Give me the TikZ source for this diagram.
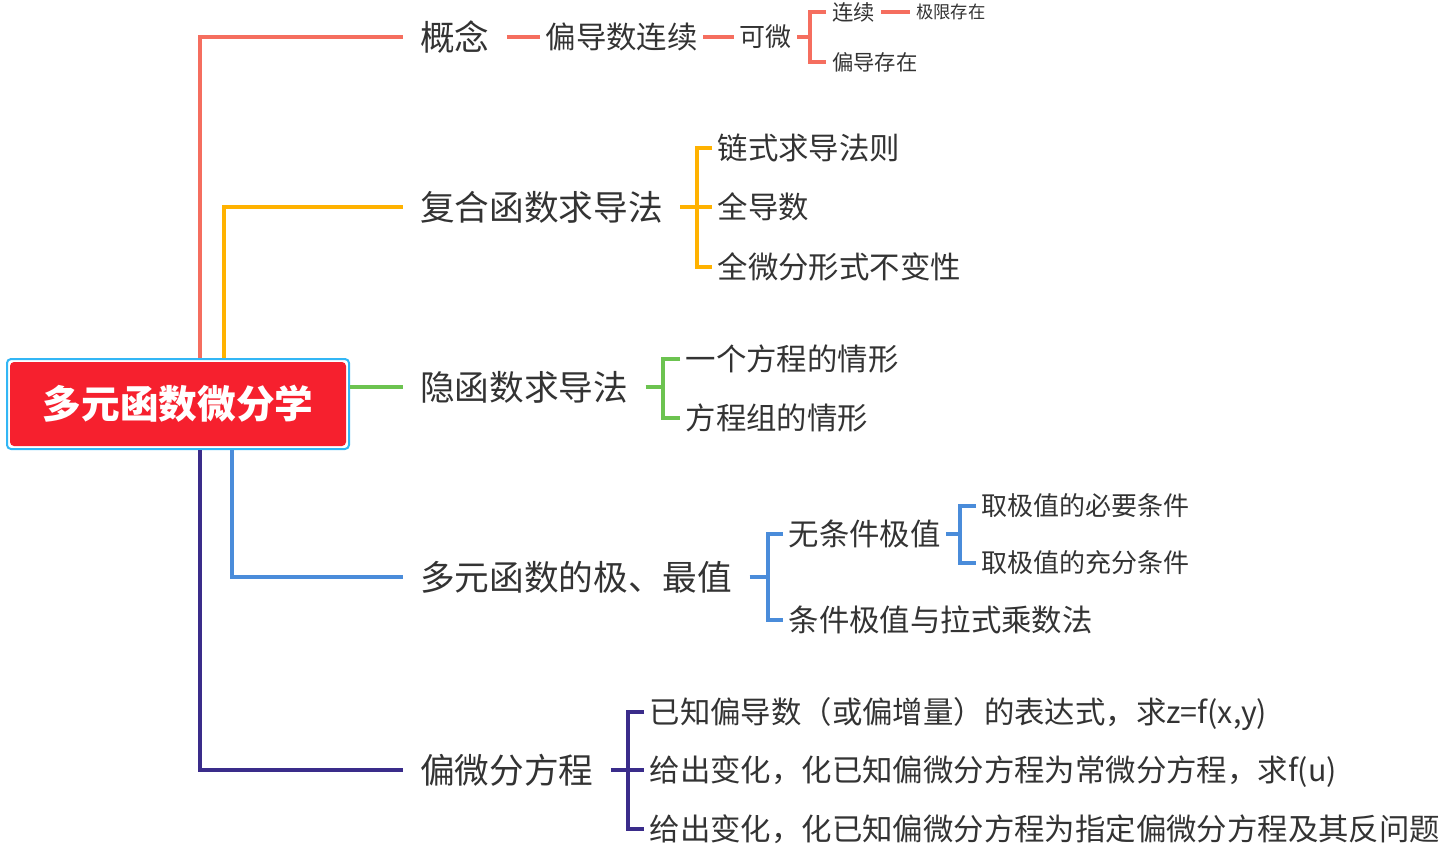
\documentclass[tikz,border=0pt]{standalone}
\usepackage{fontspec}
\setmainfont{Noto Sans CJK SC}
\definecolor{rootred}{RGB}{246,32,46}
\definecolor{rootcyan}{RGB}{50,182,245}
\definecolor{txtgray}{RGB}{51,51,51}
\definecolor{lred}{RGB}{245,110,95}
\definecolor{lorange}{RGB}{255,178,0}
\definecolor{lgreen}{RGB}{108,195,80}
\definecolor{lblue}{RGB}{74,140,218}
\definecolor{lpurple}{RGB}{58,44,138}
\begin{document}
\begin{tikzpicture}[x=0.75pt,y=-0.75pt,
  topic/.style={anchor=west, inner xsep=12.75pt, inner ysep=0pt, text height=19.5pt, text depth=0pt, text=txtgray, font=\fontsize{26}{30}\selectfont},
  sub/.style={anchor=west, inner xsep=4pt, inner ysep=0pt, text height=17.1pt, text depth=0pt, text=txtgray, font=\fontsize{22.8}{27}\selectfont},
  mid/.style={sub, text height=14.6pt, font=\fontsize{19.5}{23}\selectfont},
  small/.style={sub, inner xsep=4.5pt, text height=12pt, font=\fontsize{16}{19}\selectfont},
  tiny/.style={sub, inner xsep=4.5pt, text height=9.75pt, font=\fontsize{13}{16}\selectfont},
  trunk/.style={line width=3pt},
  twig/.style={line width=2.4pt}]
\useasboundingbox (0,0) rectangle (1446,850);

\node[draw=rootcyan, line width=1.5pt, fill=white, rounded corners=3pt, minimum width=256.5pt, minimum height=67.5pt, inner sep=0pt] (frame) at (178,404) {};
\node[fill=rootred, rounded corners=3pt, minimum width=252pt, minimum height=63pt, inner sep=0pt, text=white, font=\fontsize{29}{34}\selectfont\bfseries] (root) at (178,404) {多元函数微分学};

\node[topic] (gn) at (403,37) {概念};
\node[topic] (fh) at (403,207) {复合函数求导法};
\node[topic] (yh) at (403,387) {隐函数求导法};
\node[topic] (jz) at (403,577) {多元函数的极、最值};
\node[topic] (pw) at (403,770) {偏微分方程};

\draw[trunk, lred] ([xshift=16.5pt]frame.north) |- (gn.west);
\draw[trunk, lorange] ([xshift=34.5pt]frame.north) |- (fh.west);
\draw[trunk, lgreen] (frame.east |- yh.west) -- (yh.west);
\draw[trunk, lblue] ([xshift=40.5pt]frame.south) |- (jz.west);
\draw[trunk, lpurple] ([xshift=16.5pt]frame.south) |- (pw.west);

\node[sub] (pd) at (540,37) {偏导数连续};
\node[mid] (kw) at (734,37) {可微};
\node[small] (lx) at (826,12) {连续};
\node[small] (pc) at (826,62) {偏导存在};
\node[tiny] (jx) at (910,12) {极限存在};
\draw[twig, lred] (gn.east) -- (pd.west);
\draw[twig, lred] (pd.east) -- (kw.west);
\draw[twig, lred] (kw.east) -- ([xshift=-12pt]lx.west |- kw.east);
\draw[twig, lred] (lx.west) -- ++(-16,0) |- (pc.west);
\draw[twig, lred] (lx.east) -- (jx.west);

\node[sub] (ls) at (712,148) {链式求导法则};
\node[sub] (qd) at (712,207) {全导数};
\node[sub] (qw) at (712,267) {全微分形式不变性};
\draw[twig, lorange] (fh.east) -- (qd.west);
\draw[twig, lorange] (ls.west) -- ++(-15,0) |- (qw.west);

\node[sub] (yg) at (680,359) {一个方程的情形};
\node[sub] (fz) at (680,418) {方程组的情形};
\draw[twig, lgreen] (yh.east) -- ([xshift=-12.75pt]yg.west |- yh.east);
\draw[twig, lgreen] (yg.west) -- ++(-17,0) |- (fz.west);

\node[sub] (wt) at (783,534) {无条件极值};
\node[sub] (tj) at (783,620) {条件极值与拉式乘数法};
\node[mid] (by) at (976,506) {取极值的必要条件};
\node[mid] (cf) at (976,563) {取极值的充分条件};
\draw[twig, lblue] (jz.east) -- ([xshift=-11.25pt]wt.west |- jz.east);
\draw[twig, lblue] (wt.west) -- ++(-15,0) |- (tj.west);
\draw[twig, lblue] (wt.east) -- ([xshift=-12pt]by.west |- wt.east);
\draw[twig, lblue] (by.west) -- ++(-16,0) |- (cf.west);

\node[sub] (p1) at (644,712) {已知偏导数（或偏增量）的表达式，求z=f(x,y)};
\node[sub] (p2) at (644,770) {给出变化，化已知偏微分方程为常微分方程，求f(u)};
\node[sub] (p3) at (644,829) {给出变化，化已知偏微分方程为指定偏微分方程及其反问题};
\draw[twig, lpurple] (pw.east) -- (p2.west);
\draw[twig, lpurple] (p1.west) -- ++(-16,0) |- (p3.west);
\end{tikzpicture}
\end{document}
